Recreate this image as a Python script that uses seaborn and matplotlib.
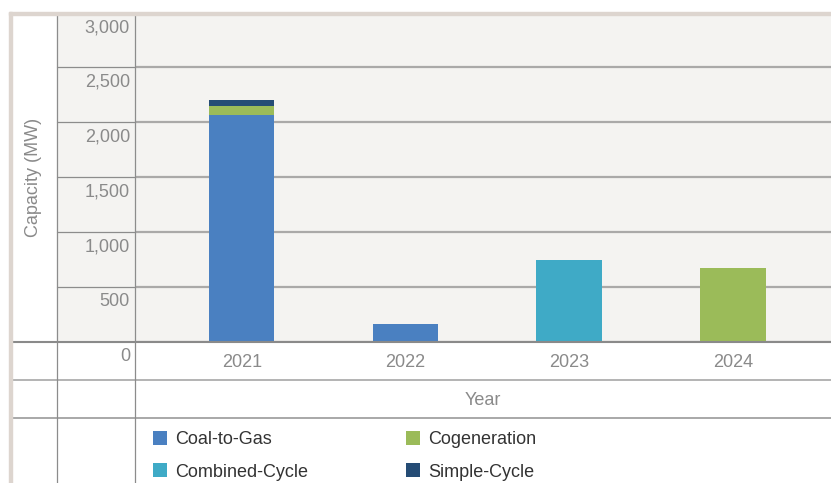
import matplotlib
matplotlib.use("Agg")
import matplotlib.pyplot as plt
from matplotlib.patches import Rectangle, Patch
from matplotlib.lines import Line2D
from matplotlib.transforms import ScaledTranslation
import pandas as pd
import seaborn as sns

# --- data ---
years = [2021, 2022, 2023, 2024]
series = ["Coal-to-Gas", "Combined-Cycle", "Cogeneration", "Simple-Cycle"]
coal_to_gas = [2070, 160, 0, 0]
combined_cycle = [0, 0, 745, 0]
cogeneration = [80, 0, 0, 670]
simple_cycle = [55, 0, 0, 0]
yticks = [0, 500, 1000, 1500, 2000, 2500, 3000]
ytick_labels = ["0", "500", "1,000", "1,500", "2,000", "2,500", "3,000"]

palette = {
    "Coal-to-Gas": "#4a80c1",
    "Combined-Cycle": "#3faac6",
    "Cogeneration": "#9bbb59",
    "Simple-Cycle": "#254c75",
}

GRAY_TXT = "#8a8a8a"
PANEL = "#f4f3f1"
TAN = "#ddd5cf"
FS = 13
W, H = 831, 483

rows = []
for name, vals in zip(series, [coal_to_gas, combined_cycle, cogeneration, simple_cycle]):
    for yr, v in zip(years, vals):
        rows.append({"Year": yr, "Type": name, "MW": v})
df = pd.DataFrame(rows)

sns.set_theme(style="white")
plt.rcParams["font.family"] = ["Liberation Sans", "DejaVu Sans"]

fig = plt.figure(figsize=(W / 100, H / 100), dpi=100)


def fx(px):
    return px / W


def fy(py):
    return 1 - py / H


AX_L, AX_R, AX_T, AX_B = 135.3, 831, 12.6, 341.7

# frame pieces in pixel coordinates
fig.patches.append(Rectangle((fx(57), fy(AX_B)), fx(AX_L) - fx(57), (AX_B - 13) / H,
                             transform=fig.transFigure, color=PANEL, zorder=-1))
fig.patches.append(Rectangle((fx(9), fy(15)), fx(831 - 9), 3 / H,
                             transform=fig.transFigure, color=TAN, zorder=6))
fig.patches.append(Rectangle((fx(9), fy(483)), fx(3), (483 - 12) / H,
                             transform=fig.transFigure, color=TAN, zorder=6))

ax = fig.add_axes([fx(AX_L), fy(AX_B), fx(AX_R - AX_L), (AX_B - AX_T) / H])
ax.set_zorder(2)
ax.set_facecolor(PANEL)

# stacked bars (first hue level ends up on top, so reverse the order)
sns.histplot(
    data=df, x="Year", hue="Type", weights="MW", multiple="stack",
    discrete=True, shrink=0.4, hue_order=series[::-1], palette=palette,
    alpha=1, linewidth=0, legend=False, ax=ax,
)

ax.set_xlim(2021 - 0.65, 2024 + 0.6)
ax.set_ylim(0, 3000)
for s in ax.spines.values():
    s.set_visible(False)
ax.set_axisbelow(True)
ax.yaxis.grid(True, color="#aaa9a8", lw=1.6)
ax.xaxis.grid(False)

ax.set_xticks(years)
ax.set_xticklabels([str(y) for y in years])
ax.tick_params(axis="x", length=0, pad=8.8, labelsize=FS, labelcolor=GRAY_TXT)
ax.set_yticks(yticks)
ax.set_yticklabels(ytick_labels, va="center")
ax.tick_params(axis="y", length=0, pad=3.8, labelsize=FS, labelcolor=GRAY_TXT)
shift = ScaledTranslation(0, -15 / 100, fig.dpi_scale_trans)
for lbl in ax.get_yticklabels():
    lbl.set_transform(lbl.get_transform() + shift)

ax.set_xlabel("Year", fontsize=FS, color=GRAY_TXT, va="center")
ax.xaxis.set_label_coords(0.5, (AX_B - 400.5) / (AX_B - AX_T))
ax.set_ylabel("Capacity (MW)", fontsize=FS, color=GRAY_TXT, va="center", ha="center")
ax.yaxis.set_label_coords((34 - AX_L) / (AX_R - AX_L), 0.5)

# gridlines through the tick-label column
for t in yticks[1:-1]:
    py = AX_B - t / 3000 * (AX_B - AX_T)
    fig.add_artist(Line2D([fx(57), fx(AX_L)], [fy(py), fy(py)], color="#8c8c8c", lw=0.9, zorder=3))

# zero line and the table row lines
fig.add_artist(Line2D([fx(12), fx(831)], [fy(AX_B), fy(AX_B)], color="#8a8a8a", lw=1.5, zorder=5))
fig.add_artist(Line2D([fx(12), fx(831)], [fy(380), fy(380)], color="#b3b3b3", lw=1.4, zorder=5))
fig.add_artist(Line2D([fx(12), fx(831)], [fy(418), fy(418)], color="#999999", lw=1.2, zorder=5))
# vertical column lines
for px in (57.3, AX_L):
    fig.add_artist(Line2D([fx(px), fx(px)], [fy(15), fy(483)], color="#8c8c8c", lw=0.9, zorder=5))

# legend in two columns
handles = [Patch(facecolor=palette[s], edgecolor="none", label=s) for s in series]
leg_kw = dict(frameon=False, loc="upper left", borderpad=0, handlelength=0.8,
              handleheight=0.8, handletextpad=0.45, labelspacing=0.84,
              fontsize=FS, labelcolor="#333333", borderaxespad=0)
fig.legend(handles=handles[:2], bbox_to_anchor=(fx(153), fy(431)), **leg_kw)
fig.legend(handles=handles[2:], bbox_to_anchor=(fx(406), fy(431)), **leg_kw)

fig.savefig("out.png", dpi=100)
